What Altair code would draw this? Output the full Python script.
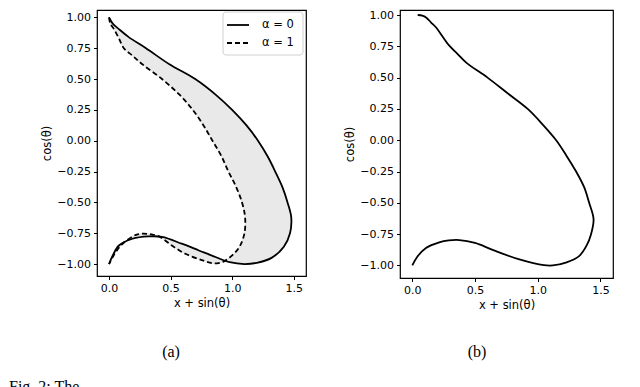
import altair as alt
import pandas as pd

# Panel (a): alpha = 0 (solid) trajectory
a0_x = [0.0, 0.03, 0.08, 0.16, 0.30, 0.49, 0.70, 0.87, 1.00, 1.12, 1.21, 1.29, 1.35, 1.41, 1.45, 1.48,
        1.47, 1.42, 1.32, 1.20, 1.10, 0.98, 0.865, 0.73, 0.59, 0.43, 0.32, 0.19, 0.08, 0.03, 0.0]
a0_y = [1.0, 0.95, 0.905, 0.84, 0.75, 0.62, 0.50, 0.37, 0.25, 0.12, 0.0, -0.13, -0.25, -0.38, -0.50, -0.62,
        -0.75, -0.86, -0.95, -0.99, -1.0, -0.985, -0.943, -0.89, -0.835, -0.78, -0.776, -0.795, -0.85, -0.93, -1.0]

# Panel (a): alpha = 1 (dashed) trajectory
a1_x = [0.0, 0.01, 0.04, 0.08, 0.12, 0.19, 0.27, 0.43, 0.57, 0.68, 0.77, 0.84, 0.91, 0.97, 1.03, 1.08,
        1.105, 1.10, 1.06, 1.0, 0.93, 0.85, 0.76, 0.62, 0.51, 0.405, 0.31, 0.22, 0.11, 0.05, 0.0]
a1_y = [1.0, 0.95, 0.905, 0.83, 0.75, 0.69, 0.62, 0.50, 0.375, 0.25, 0.12, 0.0, -0.12, -0.25, -0.37, -0.50,
        -0.62, -0.75, -0.86, -0.93, -0.98, -0.995, -0.97, -0.917, -0.85, -0.776, -0.755, -0.763, -0.836, -0.91, -1.0]

# Panel (b): single trajectory
b_x = [0.043, 0.08, 0.11, 0.15, 0.19, 0.24, 0.295, 0.36, 0.43, 0.60, 0.76, 0.92, 1.04, 1.147, 1.23, 1.306,
       1.37, 1.41, 1.445, 1.425, 1.39, 1.33, 1.23, 1.12, 1.05, 0.854, 0.64, 0.50, 0.375, 0.29, 0.215, 0.109, 0.04, 0.0]
b_y = [1.0, 0.995, 0.98, 0.94, 0.90, 0.83, 0.755, 0.69, 0.62, 0.50, 0.375, 0.25, 0.125, 0.0, -0.125, -0.25,
       -0.375, -0.50, -0.63, -0.75, -0.84, -0.925, -0.975, -1.0, -0.998, -0.952, -0.875, -0.82, -0.797, -0.80, -0.815, -0.86, -0.93, -1.0]

series_labels = ["α = 0", "α = 1"]
x_ticks = [0.0, 0.5, 1.0, 1.5]
y_ticks = [-1.0, -0.75, -0.5, -0.25, 0.0, 0.25, 0.5, 0.75, 1.0]

FONT = "DejaVu Sans"
SERIF = "Liberation Serif"

df_a0 = pd.DataFrame({"x": a0_x, "y": a0_y, "i": range(len(a0_x))})
df_a1 = pd.DataFrame({"x": a1_x, "y": a1_y, "i": range(len(a1_x))})
# band between the two curves: alpha=0 forward, alpha=1 backward
band = pd.DataFrame({
    "x": a0_x + a1_x[::-1],
    "y": a0_y + a1_y[::-1],
    "i": range(len(a0_x) + len(a1_x)),
})
df_b = pd.DataFrame({"x": b_x, "y": b_y, "i": range(len(b_x))})

xdom = [-0.098, 1.6]
ydom_a = [-1.097, 1.06]
ydom_b = [-1.10, 1.04]
INTERP = "catmull-rom"


def xenc():
    return alt.X("x:Q", scale=alt.Scale(domain=xdom, nice=False, zero=False),
                 axis=alt.Axis(values=x_ticks, format=".1f", title="x + sin(θ)", grid=False))


def yenc(dom):
    return alt.Y("y:Q", scale=alt.Scale(domain=dom, nice=False, zero=False),
                 axis=alt.Axis(values=y_ticks, format=".2f", title="cos(θ)", grid=False))


one = pd.DataFrame({"k": [0]})

band_layer = alt.Chart(band).mark_line(
    fill="#e9e9e9", stroke="#d6d6d6", strokeWidth=0.6, fillOpacity=1, interpolate=INTERP
).encode(x=xenc(), y=yenc(ydom_a), order="i:Q")

solid_a = alt.Chart(df_a0).mark_line(color="black", strokeWidth=1.8, interpolate=INTERP).encode(
    x=xenc(), y=yenc(ydom_a), order="i:Q")
dash_a = alt.Chart(df_a1).mark_line(color="black", strokeWidth=1.8, strokeDash=[5, 3],
                                    interpolate=INTERP).encode(
    x=xenc(), y=yenc(ydom_a), order="i:Q")

# manual legend
leg_box = alt.Chart(one).mark_rect(
    fill="white", stroke="#cccccc", strokeWidth=1, cornerRadius=3, opacity=0.9
).encode(x=alt.value(126), x2=alt.value(206), y=alt.value(2), y2=alt.value(45))
leg_solid = alt.Chart(one).mark_rule(color="black", strokeWidth=1.8).encode(
    x=alt.value(130), x2=alt.value(152), y=alt.value(15))
leg_dash = alt.Chart(one).mark_rule(
    color="black", strokeWidth=1.8, strokeDash=[5, 3]).encode(
    x=alt.value(130), x2=alt.value(152), y=alt.value(33))
leg_txt0 = alt.Chart(one).mark_text(
    font=FONT, fontSize=11.5, color="black", align="left", baseline="middle", text=series_labels[0]
).encode(x=alt.value(165), y=alt.value(15))
leg_txt1 = alt.Chart(one).mark_text(
    font=FONT, fontSize=11.5, color="black", align="left", baseline="middle", text=series_labels[1]
).encode(x=alt.value(165), y=alt.value(33))

cap_a = alt.Chart(one).mark_text(
    font=SERIF, fontSize=16, color="black", baseline="middle", align="center", text="(a)"
).encode(x=alt.value(74), y=alt.value(342))

fig_cap = alt.Chart(one).mark_text(
    font=SERIF, fontSize=16, color="black", baseline="top", align="left", text="Fig. 2:  The"
).encode(x=alt.value(-88), y=alt.value(369))

left = alt.layer(band_layer, solid_a, dash_a, leg_box, leg_solid, leg_dash, leg_txt0, leg_txt1,
                 cap_a, fig_cap).properties(width=209, height=266)

line_b = alt.Chart(df_b).mark_line(color="black", strokeWidth=1.8, interpolate=INTERP).encode(
    x=xenc(), y=yenc(ydom_b), order="i:Q")
cap_b = alt.Chart(one).mark_text(
    font=SERIF, fontSize=16, color="black", baseline="middle", align="center", text="(b)"
).encode(x=alt.value(77), y=alt.value(342))

right = alt.layer(line_b, cap_b).properties(width=213, height=268)

chart = alt.hconcat(left, right, spacing=37).properties(
    padding={"left": 0, "top": 0, "right": 0, "bottom": 0}
).configure_view(stroke="black", strokeWidth=1.2).configure_axis(
    domain=False, ticks=True, tickSize=3.5, tickColor="black", tickWidth=1,
    labelFont=FONT, labelFontSize=11, labelColor="black", labelPadding=3,
    titleFont=FONT, titleFontSize=11.5, titleFontWeight="normal", titleColor="black",
    titlePadding=4,
)

chart.save("out.html", embed_options={"renderer": "svg", "actions": False})
